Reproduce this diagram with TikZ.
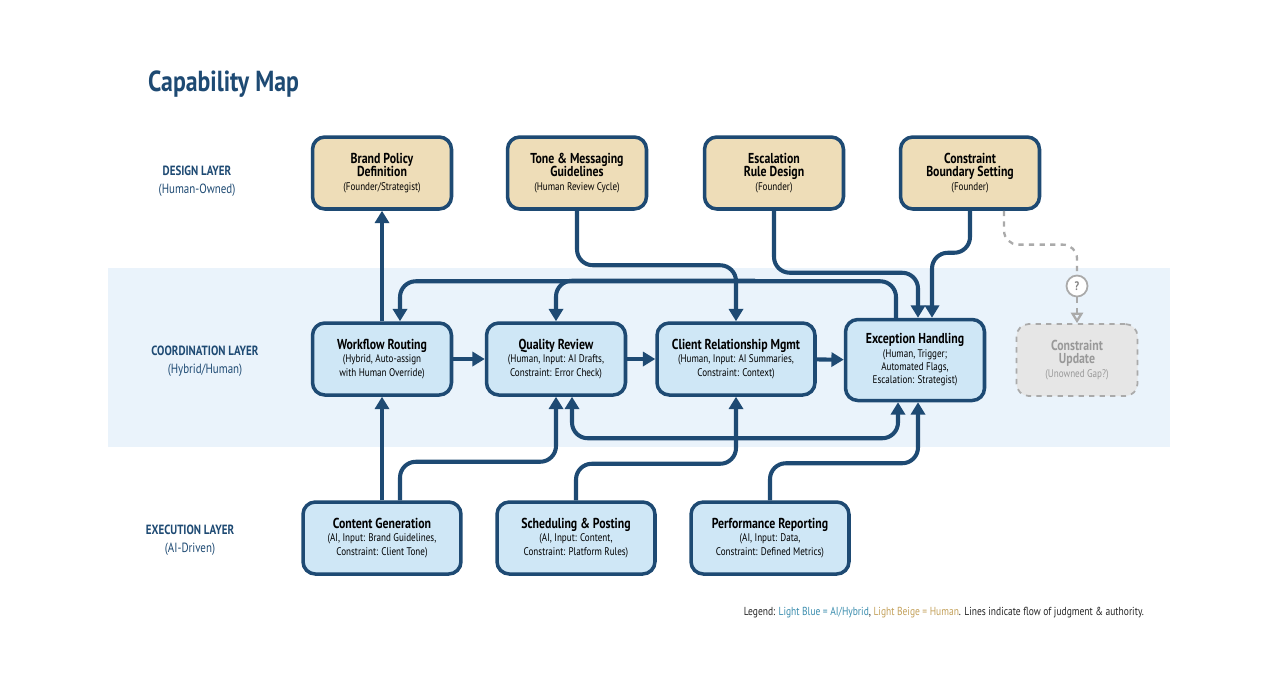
\documentclass[tikz,border=0pt]{standalone}
\usepackage{fontspec}
\setmainfont{PT Sans}[FakeStretch=0.82]
\usetikzlibrary{arrows.meta,calc}
\definecolor{navy}{HTML}{1E4A73}
\definecolor{beige}{HTML}{EEDDB8}
\definecolor{lblue}{HTML}{CFE7F6}
\definecolor{band}{HTML}{EAF3FB}
\definecolor{gfill}{HTML}{E6E6E6}
\definecolor{gline}{HTML}{AAAAAA}
\definecolor{teal}{HTML}{3A8DAE}
\definecolor{gold}{HTML}{C4A15A}
\tikzset{
 box/.style={draw=navy,line width=2pt,rounded corners=7pt,align=center,minimum width=2.78cm,minimum height=1.44cm,inner sep=1pt,font=\fontsize{6.3}{7.6}\selectfont},
 human/.style={box,fill=beige},
 ai/.style={box,fill=lblue},
 flow/.style={draw=navy,line width=2.3pt,rounded corners=9pt,-{Triangle[length=7pt,width=8pt]}},
 both/.style={flow,{Triangle[length=7pt,width=8pt]}-{Triangle[length=7pt,width=8pt]}},
 plain/.style={draw=navy,line width=2.3pt,rounded corners=9pt},
 layer/.style={align=center,text=navy,font=\fontsize{7.6}{10}\selectfont},
}
\newcommand{\ttl}[1]{{\fontsize{8.2}{9.6}\selectfont\bfseries #1}}
\begin{document}
\begin{tikzpicture}[x=0.02cm,y=-0.02cm]
\useasboundingbox[fill=white] (0,0) rectangle (1280,698);
\fill[band] (108,268) rectangle (1170,447);
\node[anchor=west,text=navy,font=\fontsize{16.5}{18}\selectfont\bfseries] (title) at (142,84) {Capability Map};
\node[layer] (l1) at (197,181) {\textbf{DESIGN LAYER}\\(Human-Owned)};
\node[layer] (l2) at (205,361) {\textbf{COORDINATION LAYER}\\(Hybrid/Human)};
\node[layer] (l3) at (190,540) {\textbf{EXECUTION LAYER}\\(AI-Driven)};

\node[human] (bp) at (382,173) {\ttl{Brand Policy}\\\ttl{Definition}\\(Founder/Strategist)};
\node[human] (tn) at (577,173) {\ttl{Tone \& Messaging}\\\ttl{Guidelines}\\(Human Review Cycle)};
\node[human] (es) at (774,173) {\ttl{Escalation}\\\ttl{Rule Design}\\(Founder)};
\node[human] (cb) at (970,173) {\ttl{Constraint}\\\ttl{Boundary Setting}\\(Founder)};

\node[ai] (wr) at (382,359) {\ttl{Workflow Routing}\\(Hybrid, Auto-assign\\with Human Override)};
\node[ai] (qr) at (556,359) {\ttl{Quality Review}\\(Human, Input: AI Drafts,\\Constraint: Error Check)};
\node[ai,minimum width=3.16cm] (cr) at (736,359) {\ttl{Client Relationship Mgmt}\\(Human, Input: AI Summaries,\\Constraint: Context)};
\node[ai,minimum height=1.62cm] (ex) at (915,360) {\ttl{Exception Handling}\\(Human, Trigger;\\Automated Flags,\\Escalation: Strategist)};
\node[box,draw=gline,dashed,line width=1pt,fill=gfill,text=gray!80,minimum width=2.42cm] (cu) at (1077,360) {\ttl{Constraint}\\\ttl{Update}\\(Unowned Gap?)};
\node[circle,draw=gline,line width=1pt,fill=white,text=gray,inner sep=1pt,minimum size=0.42cm,font=\fontsize{7}{8}\selectfont\bfseries] (q) at (1077,286) {?};

\node[ai,minimum width=3.16cm] (cg) at (382,538) {\ttl{Content Generation}\\(AI, Input: Brand Guidelines,\\Constraint: Client Tone)};
\node[ai,minimum width=3.16cm] (sp) at (576,538) {\ttl{Scheduling \& Posting}\\(AI, Input: Content,\\Constraint: Platform Rules)};
\node[ai,minimum width=3.16cm] (pr) at (770,538) {\ttl{Performance Reporting}\\(AI, Input: Data,\\Constraint: Defined Metrics)};

% design -> coordination
\draw[flow] (wr.north) -- (bp.south);
\draw[flow] (tn.south) |- ($(cr.north)+(0,-56)$) -- (cr.north);
\draw[flow] (es.south) |- ($(ex.north)+(3,-45)$) -- ($(ex.north)+(3,0)$);
\draw[flow] (cb.south) |- ($(ex.north)+(17,-65)$) -- ($(ex.north)+(17,0)$);
% exception feedback
\draw[flow] ($(ex.north)+(-19,0)$) |- ($(wr.north)+(18,-40)$) -- ($(wr.north)+(18,0)$);
\draw[flow] ($(ex.north)+(-160,-37)$) -| (qr.north);
% horizontal chain
\draw[flow] (wr) -- (qr);
\draw[flow] (qr) -- (cr);
\draw[flow] (cr) -- (ex);
% execution -> coordination
\draw[flow] (cg.north) -- (wr.south);
\draw[flow] ($(cg.north)+(18,0)$) |- ($(qr.south)+(0,65)$) -- (qr.south);
\draw[flow] (sp.north) |- ($(cr.south)+(0,67)$) -- (cr.south);
\draw[flow] (pr.north) |- ($(ex.south)+(3,61)$) -- ($(ex.south)+(3,0)$);
\draw[both] ($(qr.south)+(16,0)$) |- ($(ex.south)+(-17,36)$) -- ($(ex.south)+(-17,0)$);
% gap
\draw[gline,line width=1.3pt,dashed,rounded corners=8pt] ($(cb.south)+(34,0)$) |- ($(q.north)+(0,-30)$) -- (q.north);
\draw[gline,line width=1.3pt,dashed,-{Triangle[length=6pt,width=7pt,open]}] (q.south) -- (cu.north);

\node[anchor=east,font=\fontsize{6.6}{8}\selectfont,text=black!85] (lg) at (1150,613) {Legend: \textcolor{teal}{Light Blue = AI/Hybrid}, \textcolor{gold}{Light Beige = Human}. Lines indicate flow of judgment \& authority.};
\end{tikzpicture}
\end{document}
